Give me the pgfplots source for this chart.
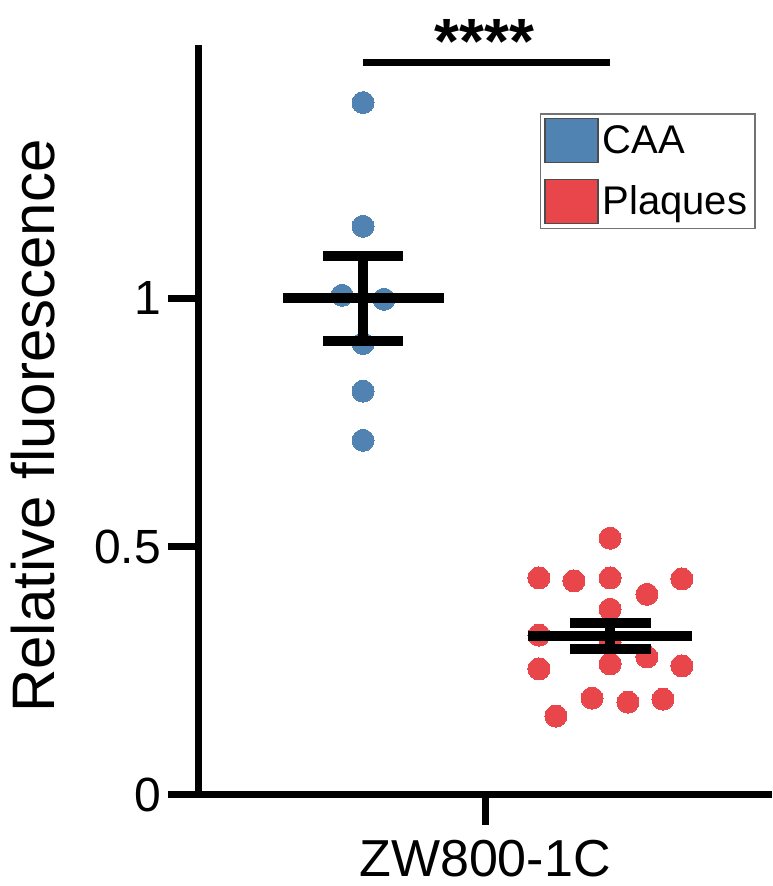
\documentclass[border=0pt]{standalone}
\usepackage{pgfplots}
\pgfplotsset{compat=1.18}
\usepackage{fontspec}
\setmainfont{Liberation Sans}
\definecolor{caa}{RGB}{80,131,178}
\definecolor{plq}{RGB}{232,70,74}

\begin{document}
\begin{tikzpicture}
\begin{axis}[
  at={(0,0)}, anchor=south west,
  set layers,
  scale only axis, width=287pt, height=375pt,
  xmin=0, xmax=2, ymin=0, ymax=1.51,
  clip=false,
  axis x line*=bottom, axis y line*=left,
  axis line style={line width=3.5pt, -},
  xtick={1}, xticklabels={ZW800-1C},
  ytick={0,0.5,1}, yticklabels={0,0.5,1},
  tick align=outside, major tick length=15pt,
  tick style={line width=3.5pt, black},
  xticklabel style={font=\fontsize{26}{30}\selectfont, yshift=-4pt},
  yticklabel style={font=\fontsize{24}{28}\selectfont},
  ylabel={Relative fluorescence},
  ylabel style={font=\fontsize{30}{34}\selectfont, at={(axis description cs:-0.2875,0.492)}, anchor=center},
  legend style={at={(axis description cs:0.972,0.909)}, anchor=north east,
    draw=black!55, line width=0.8pt, font=\fontsize{20}{24}\selectfont,
    inner sep=2pt, row sep=8pt},
  legend cell align=left,
  legend image code/.code={\draw[#1] (0pt,-11pt) rectangle (26.5pt,11pt);},
  msem/.style={black, line width=5pt, forget plot, on layer=axis foreground},
  dots/.style={only marks, mark=*, mark size=5.5pt, color=#1,
    mark options={draw=#1, fill=#1, line width=0pt}, forget plot},
]
% individual values
\addplot[dots=caa]
  coordinates {(0.575,1.394) (0.575,1.145) (0.502,1.006) (0.648,0.998)
               (0.575,0.909) (0.575,0.813) (0.575,0.714)};
\addplot[dots=plq]
  coordinates {(1.436,0.517) (1.188,0.437) (1.310,0.431) (1.436,0.437) (1.686,0.435)
               (1.564,0.404) (1.436,0.374) (1.188,0.322) (1.436,0.308) (1.564,0.278)
               (1.188,0.254) (1.436,0.264) (1.686,0.260) (1.373,0.195) (1.498,0.187)
               (1.620,0.193) (1.247,0.159)};
% mean +- SEM, CAA
\addplot[msem] coordinates {(0.296,1.000) (0.857,1.000)};
\addplot[msem] coordinates {(0.575,0.9145) (0.575,1.0855)};
\addplot[msem] coordinates {(0.436,1.0855) (0.714,1.0855)};
\addplot[msem] coordinates {(0.436,0.9145) (0.714,0.9145)};
% mean +- SEM, plaques
\addplot[msem] coordinates {(1.150,0.320) (1.721,0.320)};
\addplot[msem] coordinates {(1.436,0.293) (1.436,0.347)};
\addplot[msem] coordinates {(1.296,0.347) (1.578,0.347)};
\addplot[msem] coordinates {(1.296,0.293) (1.578,0.293)};
% significance
\addplot[black, line width=3.5pt, forget plot] coordinates {(0.575,1.475) (1.436,1.475)};
\node[anchor=base, inner sep=0pt, font=\bfseries\fontsize{32}{36}\selectfont]
  at (axis cs:0.998,1.472) {****};

\addlegendimage{fill=caa, draw=black!70, line width=0.6pt}
\addlegendentry{CAA}
\addlegendimage{fill=plq, draw=black!70, line width=0.6pt}
\addlegendentry{Plaques}
\end{axis}
\pgfresetboundingbox
\path (-99pt,-45.5pt) rectangle (287pt,397.5pt);
\end{tikzpicture}
\end{document}
